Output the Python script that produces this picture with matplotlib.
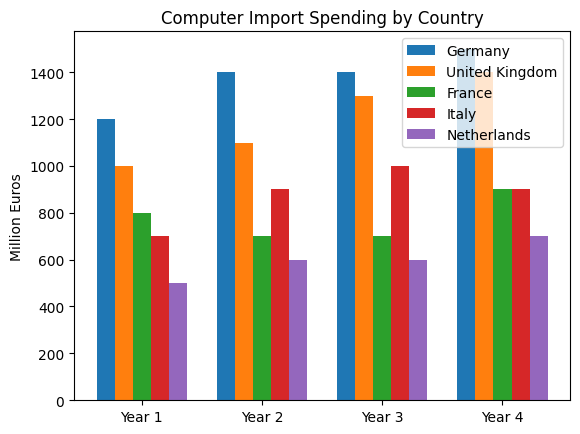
import matplotlib
matplotlib.use("Agg")
import matplotlib.pyplot as plt
import numpy as np

years = ["Year 1", "Year 2", "Year 3", "Year 4"]
countries = ["Germany", "United Kingdom", "France", "Italy", "Netherlands"]
germany = [1200, 1400, 1400, 1500]
uk = [1000, 1100, 1300, 1400]
france = [800, 700, 700, 900]
italy = [700, 900, 1000, 900]
netherlands = [500, 600, 600, 700]
series = [germany, uk, france, italy, netherlands]

fig, ax = plt.subplots(figsize=(5.8, 4.35), dpi=100)
x = np.arange(len(years))
w = 0.15
for i, (name, vals) in enumerate(zip(countries, series)):
    ax.bar(x + (i - 2) * w, vals, w, label=name)
ax.set_xticks(x)
ax.set_xticklabels(years)
ax.set_ylabel("Million Euros")
ax.set_title("Computer Import Spending by Country")
ax.legend(loc="upper right")
fig.subplots_adjust(left=0.1276, right=0.983, top=0.9257, bottom=0.078)
fig.savefig("out.png")
